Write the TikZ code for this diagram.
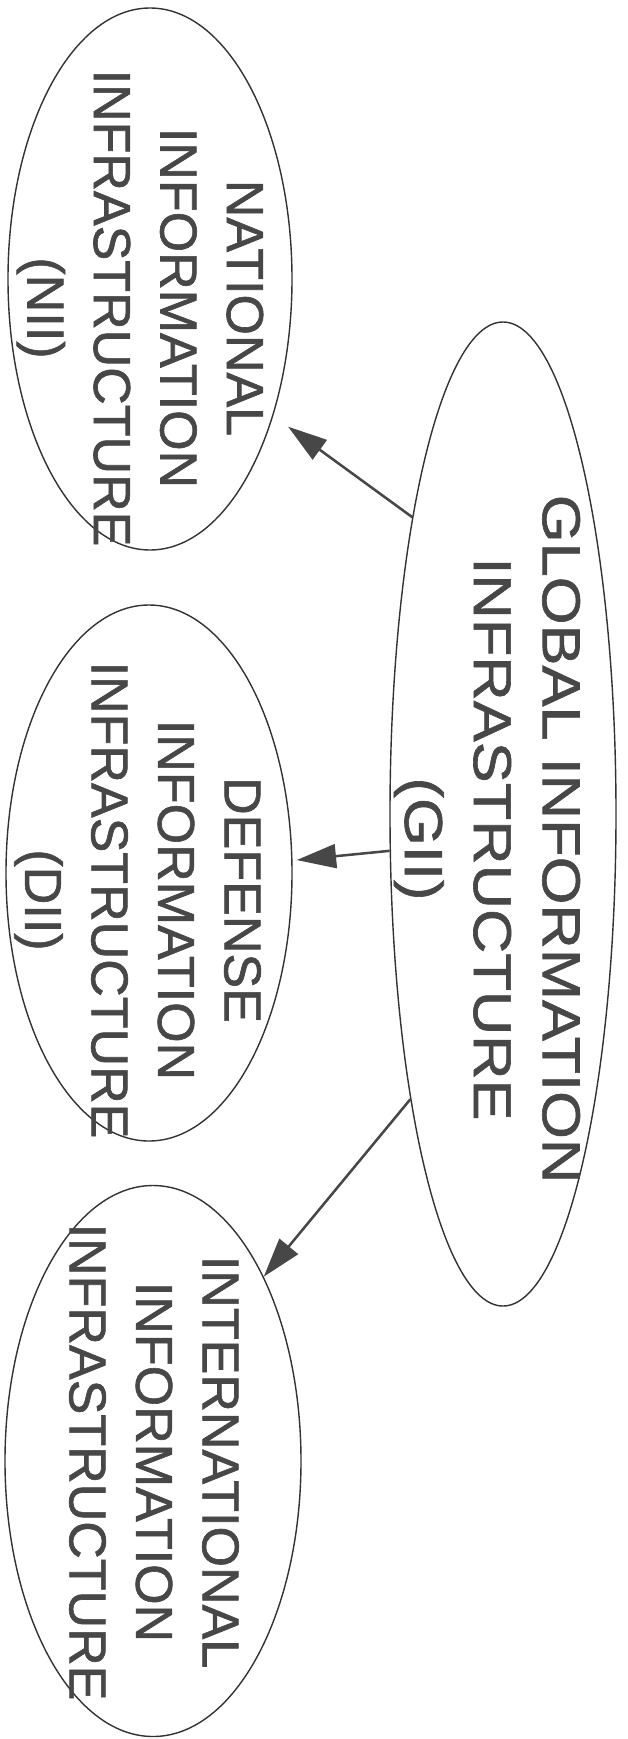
\documentclass[tikz,border=0pt]{standalone}
\usepackage{fontspec}
\setmainfont{Liberation Sans}[FakeBold=0.8]
\newfontfamily\plainfont{Liberation Sans}[FakeBold=1.2]
\newfontfamily\widefont{Liberation Sans}[FakeStretch=1.15,FakeBold=1.2]
\usetikzlibrary{shapes.geometric,arrows.meta}

\tikzstyle{bubble} = [ellipse, draw=black!80, line width=1pt, inner sep=0pt]
\tikzstyle{words} = [align=center, text=black!72, inner sep=0pt,
    font=\plainfont\fontsize{37}{47.3}\selectfont]
\tikzstyle{bigwords} = [align=center, text=black!72, inner sep=0pt,
    font=\widefont\fontsize{38}{49}\selectfont]
\tikzstyle{line} = [draw=black!72, line width=1.8pt,
    -{Triangle[length=28pt,width=17pt]}]

\begin{document}
\begin{tikzpicture}[rotate=-90, transform shape, auto]
    \useasboundingbox (0,0) rectangle (43.475,15.675);
    % Place nodes
    \node [bubble, minimum width=24.6cm, minimum height=5.65cm] (gii) at (20.35,12.575) {};
    \node [bubble, minimum width=13.55cm, minimum height=7.1cm] (nii) at (6.975,3.75) {};
    \node [bubble, minimum width=13.4cm, minimum height=7.15cm] (dii) at (21.825,3.725) {};
    \node [bubble, minimum width=13.775cm, minimum height=7.4cm] (iii) at (36.525,3.825) {};

    % Texts
    \node [bigwords] (giitext) at (20.975,12.175) {GLOBAL INFORMATION\\INFRASTRUCTURE\\(GII)};
    \node [words] (niitext) at (7.7,3.5) {NATIONAL\\INFORMATION\\INFRASTRUCTURE\\(NII)};
    \node [words] (diitext) at (22.5,3.44) {DEFENSE\\INFORMATION\\INFRASTRUCTURE\\(DII)};
    \node [words] (iiitext) at (36.55,3.85) {INTERNATIONAL\\INFORMATION\\INFRASTRUCTURE};

    % Arrows
    \path [line, shorten >=13pt] (gii.197.7) -- (nii.42.8);
    \path [line, shorten >=3pt] (gii.-72) -- (dii.95.8);
    \path [line] (gii.-18.2) -- (iii.149.4);

\end{tikzpicture}
\end{document}
